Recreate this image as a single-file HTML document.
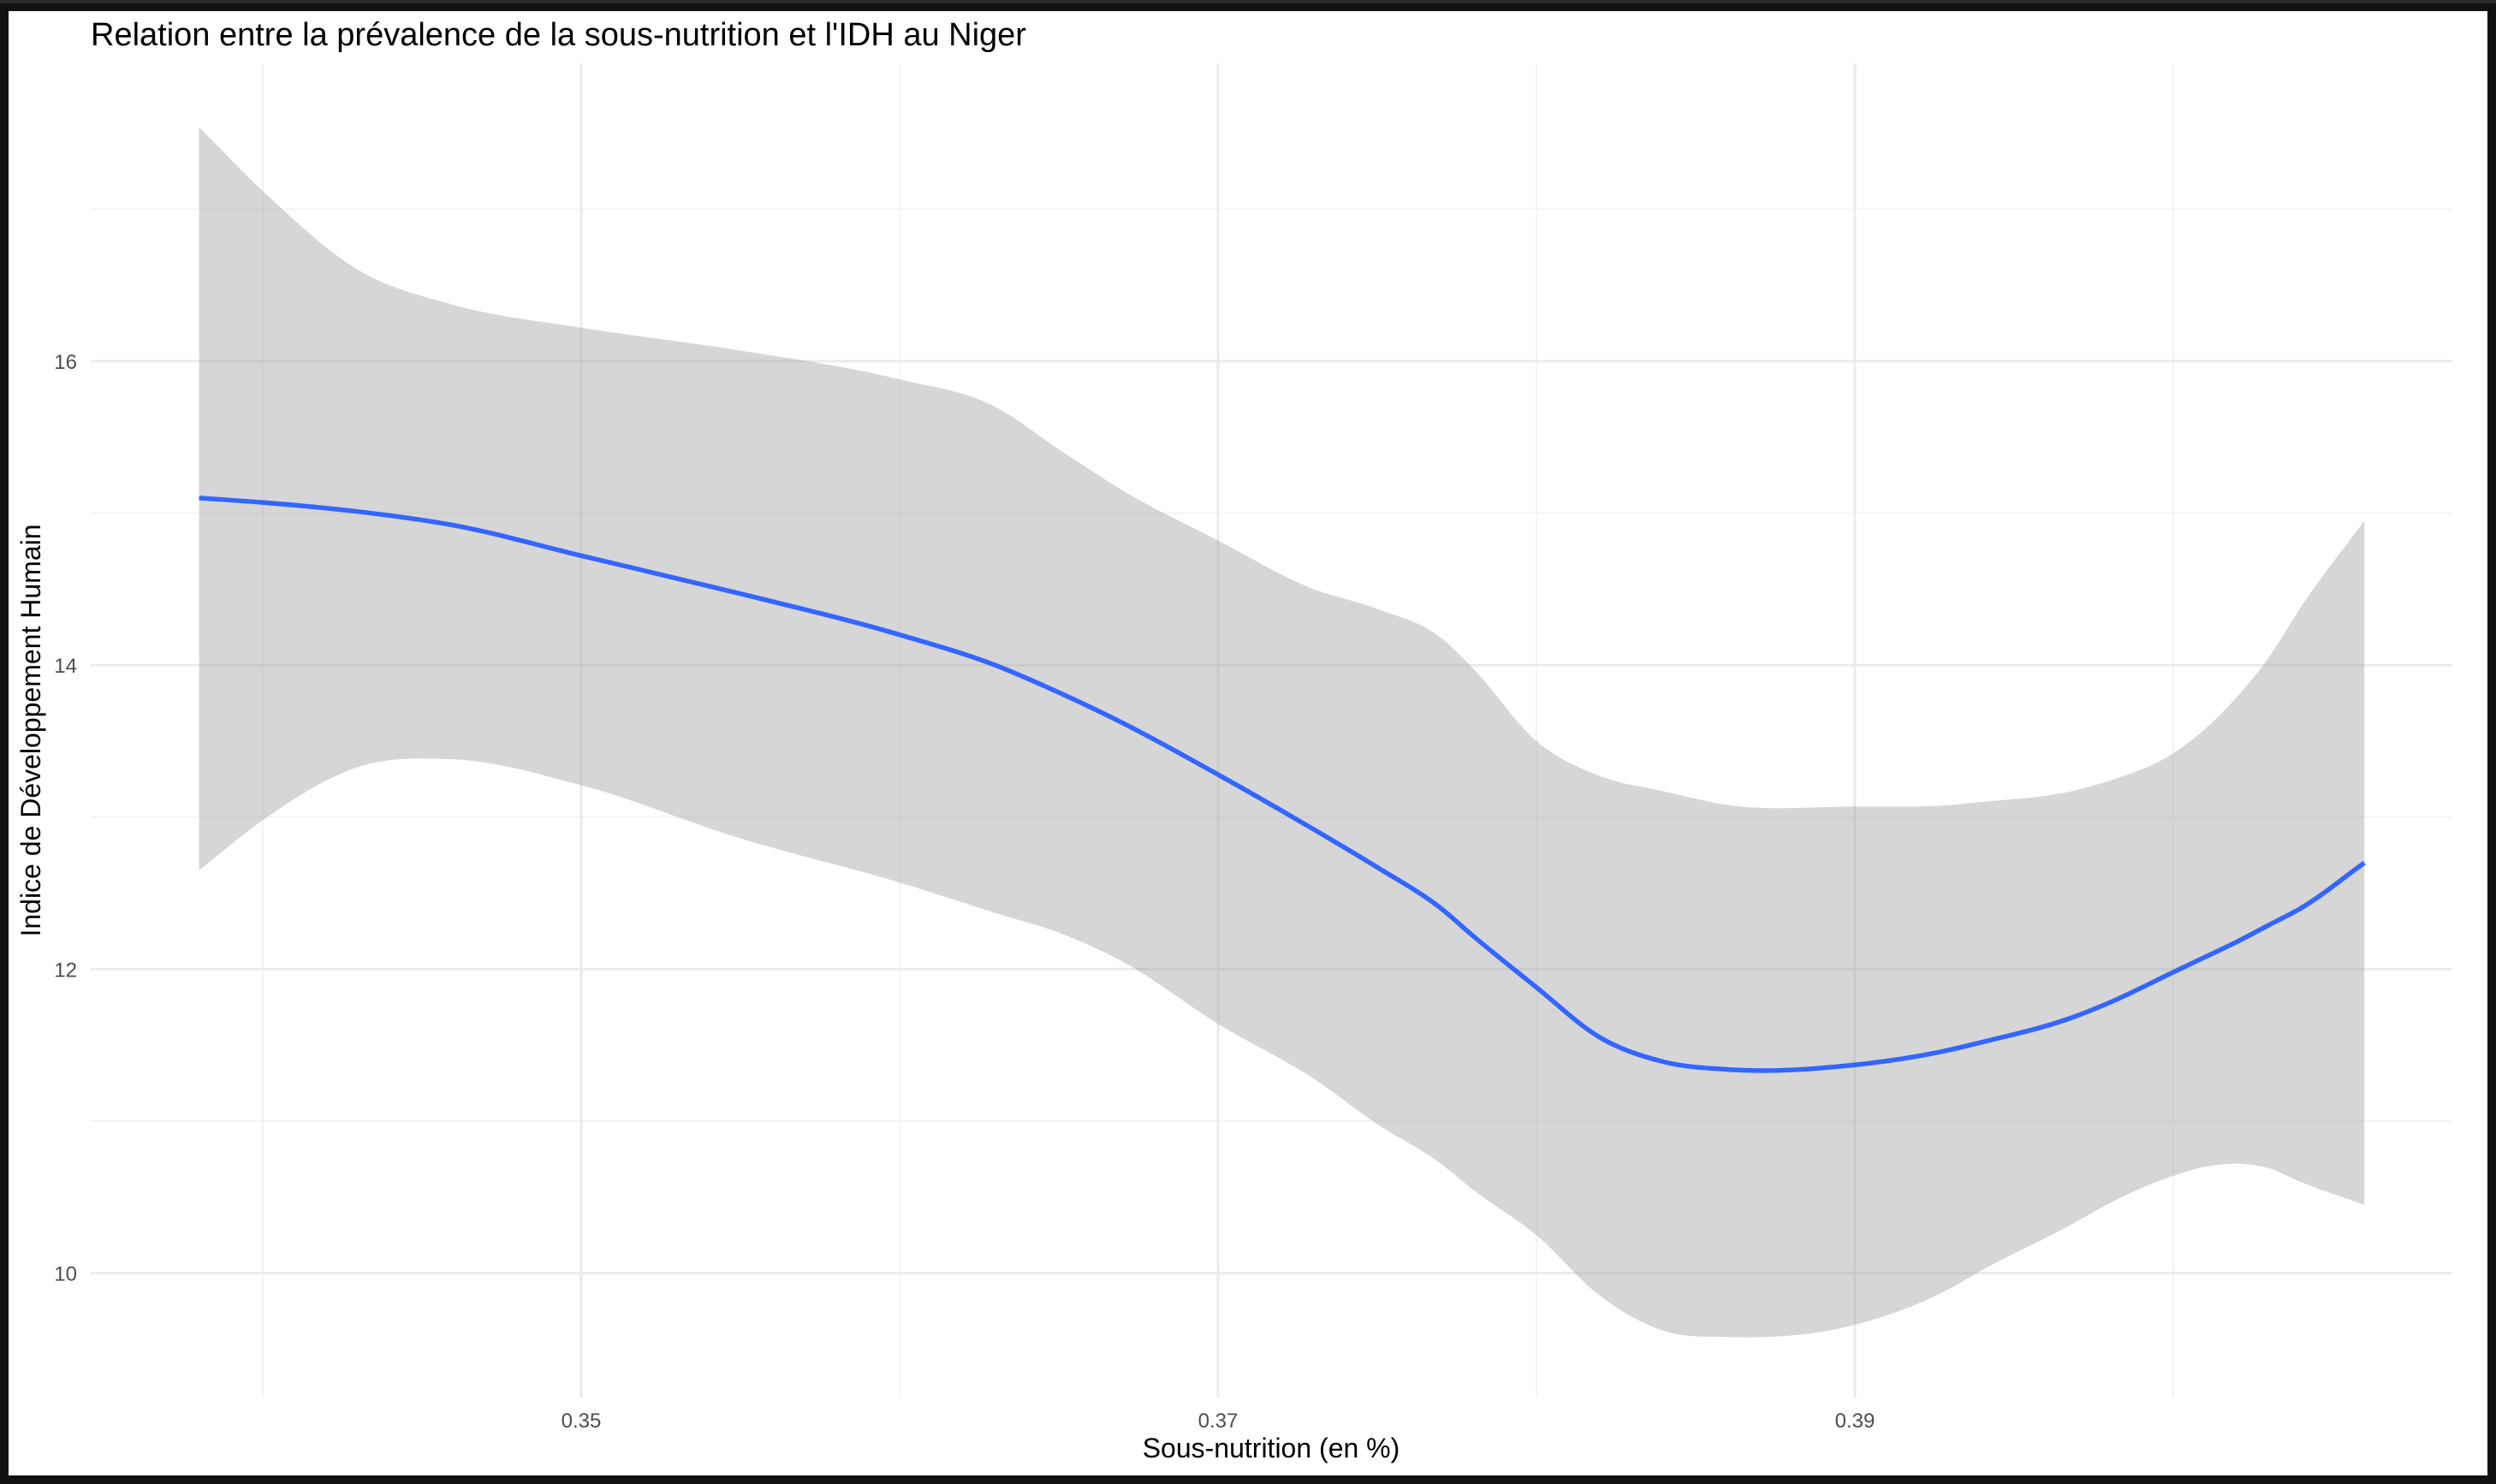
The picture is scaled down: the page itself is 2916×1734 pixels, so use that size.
<!DOCTYPE html>
<html><head><meta charset="utf-8"><style>
html,body{margin:0;padding:0;background:#111;}
#wrap{position:relative;width:2916px;height:1734px;background:#111;}
svg{position:absolute;left:0;top:0;}
text{font-family:"Liberation Sans",sans-serif;}
</style></head><body>
<div id="wrap">
<svg id="chart" width="2916" height="1734"></svg>
</div>
<script>
const xs    = [0.338,0.34,0.343,0.346,0.35,0.355,0.36,0.363,0.365,0.367,0.37,0.373,0.375,0.377,0.378,0.38,0.382,0.384,0.386,0.39,0.393,0.394,0.3968,0.398,0.4,0.401,0.402,0.403,0.404,0.406];
const fitY  = [15.1,15.07,15.01,14.92,14.72,14.47,14.2,14.0,13.82,13.62,13.28,12.92,12.67,12.4,12.22,11.88,11.55,11.39,11.34,11.37,11.47,11.52,11.68,11.78,11.98,12.08,12.18,12.29,12.4,12.7];
const upY   = [17.54,17.12,16.6,16.37,16.22,16.07,15.88,15.7,15.42,15.15,14.82,14.5,14.37,14.18,13.98,13.5,13.27,13.17,13.08,13.07,13.08,13.1,13.17,13.24,13.42,13.58,13.79,14.05,14.38,14.95];
const loY   = [12.65,12.98,13.33,13.38,13.21,12.86,12.57,12.37,12.24,12.05,11.64,11.28,10.98,10.72,10.55,10.25,9.85,9.62,9.58,9.66,9.9,10.02,10.32,10.46,10.64,10.7,10.72,10.69,10.6,10.45];
const xTicks = [0.35,0.37,0.39];
const xTickLabels = ["0.35","0.37","0.39"];
const xMinor = [0.34,0.36,0.38,0.40];
const yTicks = [10,12,14,16];
const yTickLabels = ["10","12","14","16"];
const yMinor = [11,13,15,17];

const NS="http://www.w3.org/2000/svg";
const svg=document.getElementById('chart');
const L=106,R=2864,T=74,B=1633;
const sx=v=>679+(v-0.35)*37200;
const sy=v=>422+(16-v)*177.6;
function mk(tag,attrs,parent){const e=document.createElementNS(NS,tag);for(const k in attrs)e.setAttribute(k,attrs[k]);(parent||svg).appendChild(e);return e;}
function spline(pts){
  const n=pts.length,m=[];
  for(let i=0;i<n;i++){
    if(i===0)m.push((pts[1][1]-pts[0][1])/(pts[1][0]-pts[0][0]));
    else if(i===n-1)m.push((pts[n-1][1]-pts[n-2][1])/(pts[n-1][0]-pts[n-2][0]));
    else{const a=(pts[i][1]-pts[i-1][1])/(pts[i][0]-pts[i-1][0]),b=(pts[i+1][1]-pts[i][1])/(pts[i+1][0]-pts[i][0]);
      const h0=pts[i][0]-pts[i-1][0],h1=pts[i+1][0]-pts[i][0];m.push((a*h1+b*h0)/(h0+h1));}
  }
  let d=`M${pts[0][0]},${pts[0][1]}`;
  for(let i=0;i<n-1;i++){const p1=pts[i],p2=pts[i+1],h=(p2[0]-p1[0])/3;
    d+=` C${p1[0]+h},${p1[1]+m[i]*h} ${p2[0]-h},${p2[1]-m[i+1]*h} ${p2[0]},${p2[1]}`;}
  return d;
}

const bg=mk('rect',{x:10,y:13,width:2896,height:1711,fill:'#ffffff'});


mk('rect',{x:0,y:0,width:2916,height:4,fill:'#2a2a2a'});

xMinor.forEach(v=>{const l=mk('line',{x1:sx(v),x2:sx(v),y1:T,y2:B,stroke:'#f3f3f3','stroke-width':2});

});
yMinor.forEach(v=>{const l=mk('line',{x1:L,x2:R,y1:sy(v),y2:sy(v),stroke:'#f3f3f3','stroke-width':2});

});
xTicks.forEach((v,i)=>{const l=mk('line',{x1:sx(v),x2:sx(v),y1:T,y2:B,stroke:'#ebebeb','stroke-width':3});


const t=mk('text',{x:sx(v),y:1668,'font-size':24,fill:'#4d4d4d','text-anchor':'middle'});t.textContent=xTickLabels[i];

});
yTicks.forEach((v,i)=>{const l=mk('line',{x1:L,x2:R,y1:sy(v),y2:sy(v),stroke:'#ebebeb','stroke-width':3});


const t=mk('text',{x:90,y:sy(v)+9,'font-size':24,fill:'#4d4d4d','text-anchor':'end'});t.textContent=yTickLabels[i];

});

const up=xs.map((x,i)=>[sx(x),sy(upY[i])]);
const lo=xs.map((x,i)=>[sx(x),sy(loY[i])]).reverse();
let dBand=spline(up)+' L'+spline(lo).slice(1)+' Z';
const band=mk('path',{d:dBand,fill:'#999999','fill-opacity':0.4});


const line=mk('path',{d:spline(xs.map((x,i)=>[sx(x),sy(fitY[i])])),fill:'none',stroke:'#3366ff','stroke-width':5.5});



const title=mk('text',{x:106,y:53,'font-size':38,fill:'#000'});title.textContent="Relation entre la prévalence de la sous-nutrition et l'IDH au Niger";


const xt=mk('text',{x:(L+R)/2,y:1703,'font-size':32,fill:'#000','text-anchor':'middle'});xt.textContent="Sous-nutrition (en %)";


const yt=mk('text',{x:0,y:0,'font-size':32,fill:'#000','text-anchor':'middle',transform:`translate(47,${(T+B)/2}) rotate(-90)`});yt.textContent="Indice de Développement Humain";


</script>
</body></html>
